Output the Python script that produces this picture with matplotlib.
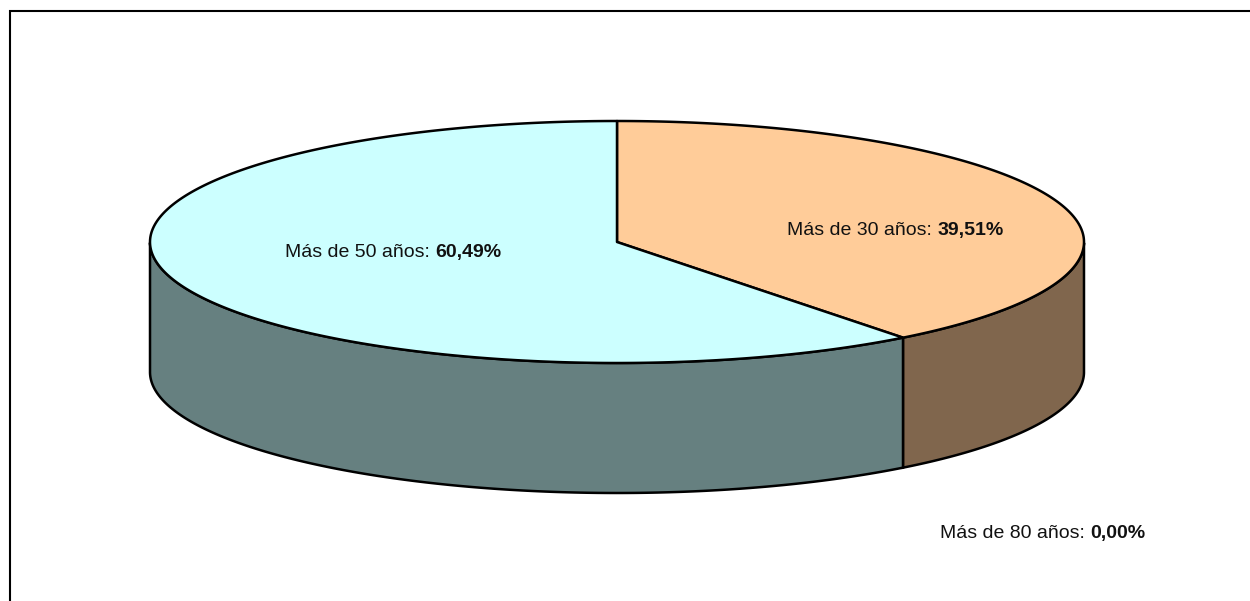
import matplotlib
matplotlib.use('Agg')
import matplotlib.pyplot as plt
import numpy as np

# porcentajes de la tarta
categorias = ['Más de 30 años', 'Más de 50 años', 'Más de 80 años']
valores = [39.51, 60.49, 0.0]
etiquetas = ['39,51%', '60,49%', '0,00%']
colores_top = ['#FFCC99', '#CCFFFF', '#FFFFFF']
colores_lado = ['#80664D', '#668080', '#808080']

CX, CY = 617, 242
RX, RY = 467, 121
ALTO = 130
FUENTE = ['Liberation Sans', 'DejaVu Sans']

fig = plt.figure(figsize=(12.5, 6.01), dpi=100)
ax = fig.add_axes([0, 0, 1, 1])
ax.set_xlim(0, 1250)
ax.set_ylim(601, 0)
ax.axis('off')

# marco cortado por abajo y por la derecha
ax.plot([9.5, 9.5, 1250], [601, 11, 11], color='black', lw=1.5, solid_joinstyle='miter')


def borde(t):
    return CX + RX * np.sin(t), CY - RY * np.cos(t)


inicio = 0.0
total = sum(valores)
for valor, c_top, c_lado in zip(valores, colores_top, colores_lado):
    if valor == 0:
        continue
    fin = inicio + 2 * np.pi * valor / total
    t = np.linspace(inicio, fin, 300)
    x, y = borde(t)

    # pared lateral, solo la parte frontal se ve
    visible = (t >= np.pi / 2) & (t <= 3 * np.pi / 2)
    if visible.any():
        xv, yv = x[visible], y[visible]
        ax.fill(np.r_[xv, xv[::-1]], np.r_[yv, yv[::-1] + ALTO], facecolor=c_lado,
                edgecolor='black', lw=1.8, zorder=2)

    # cara superior
    ax.fill(np.r_[CX, x], np.r_[CY, y], facecolor=c_top, edgecolor='black', lw=1.8,
            joinstyle='round', zorder=3)
    inicio = fin


def etiqueta(px, py, nombre, texto):
    a = ax.text(px, py, nombre + ': ', family=FUENTE, fontsize=14, va='baseline', ha='left',
                color='#111111', zorder=5)
    fig.canvas.draw()
    ext = a.get_window_extent().transformed(ax.transData.inverted())
    ax.text(ext.x1, py, texto, family=FUENTE, fontsize=14, fontweight='bold', va='baseline',
            ha='left', color='#111111', zorder=5)


etiqueta(787, 235, categorias[0], etiquetas[0])
etiqueta(285, 257, categorias[1], etiquetas[1])
etiqueta(940, 538, categorias[2], etiquetas[2])

fig.savefig('out.png', dpi=100)
